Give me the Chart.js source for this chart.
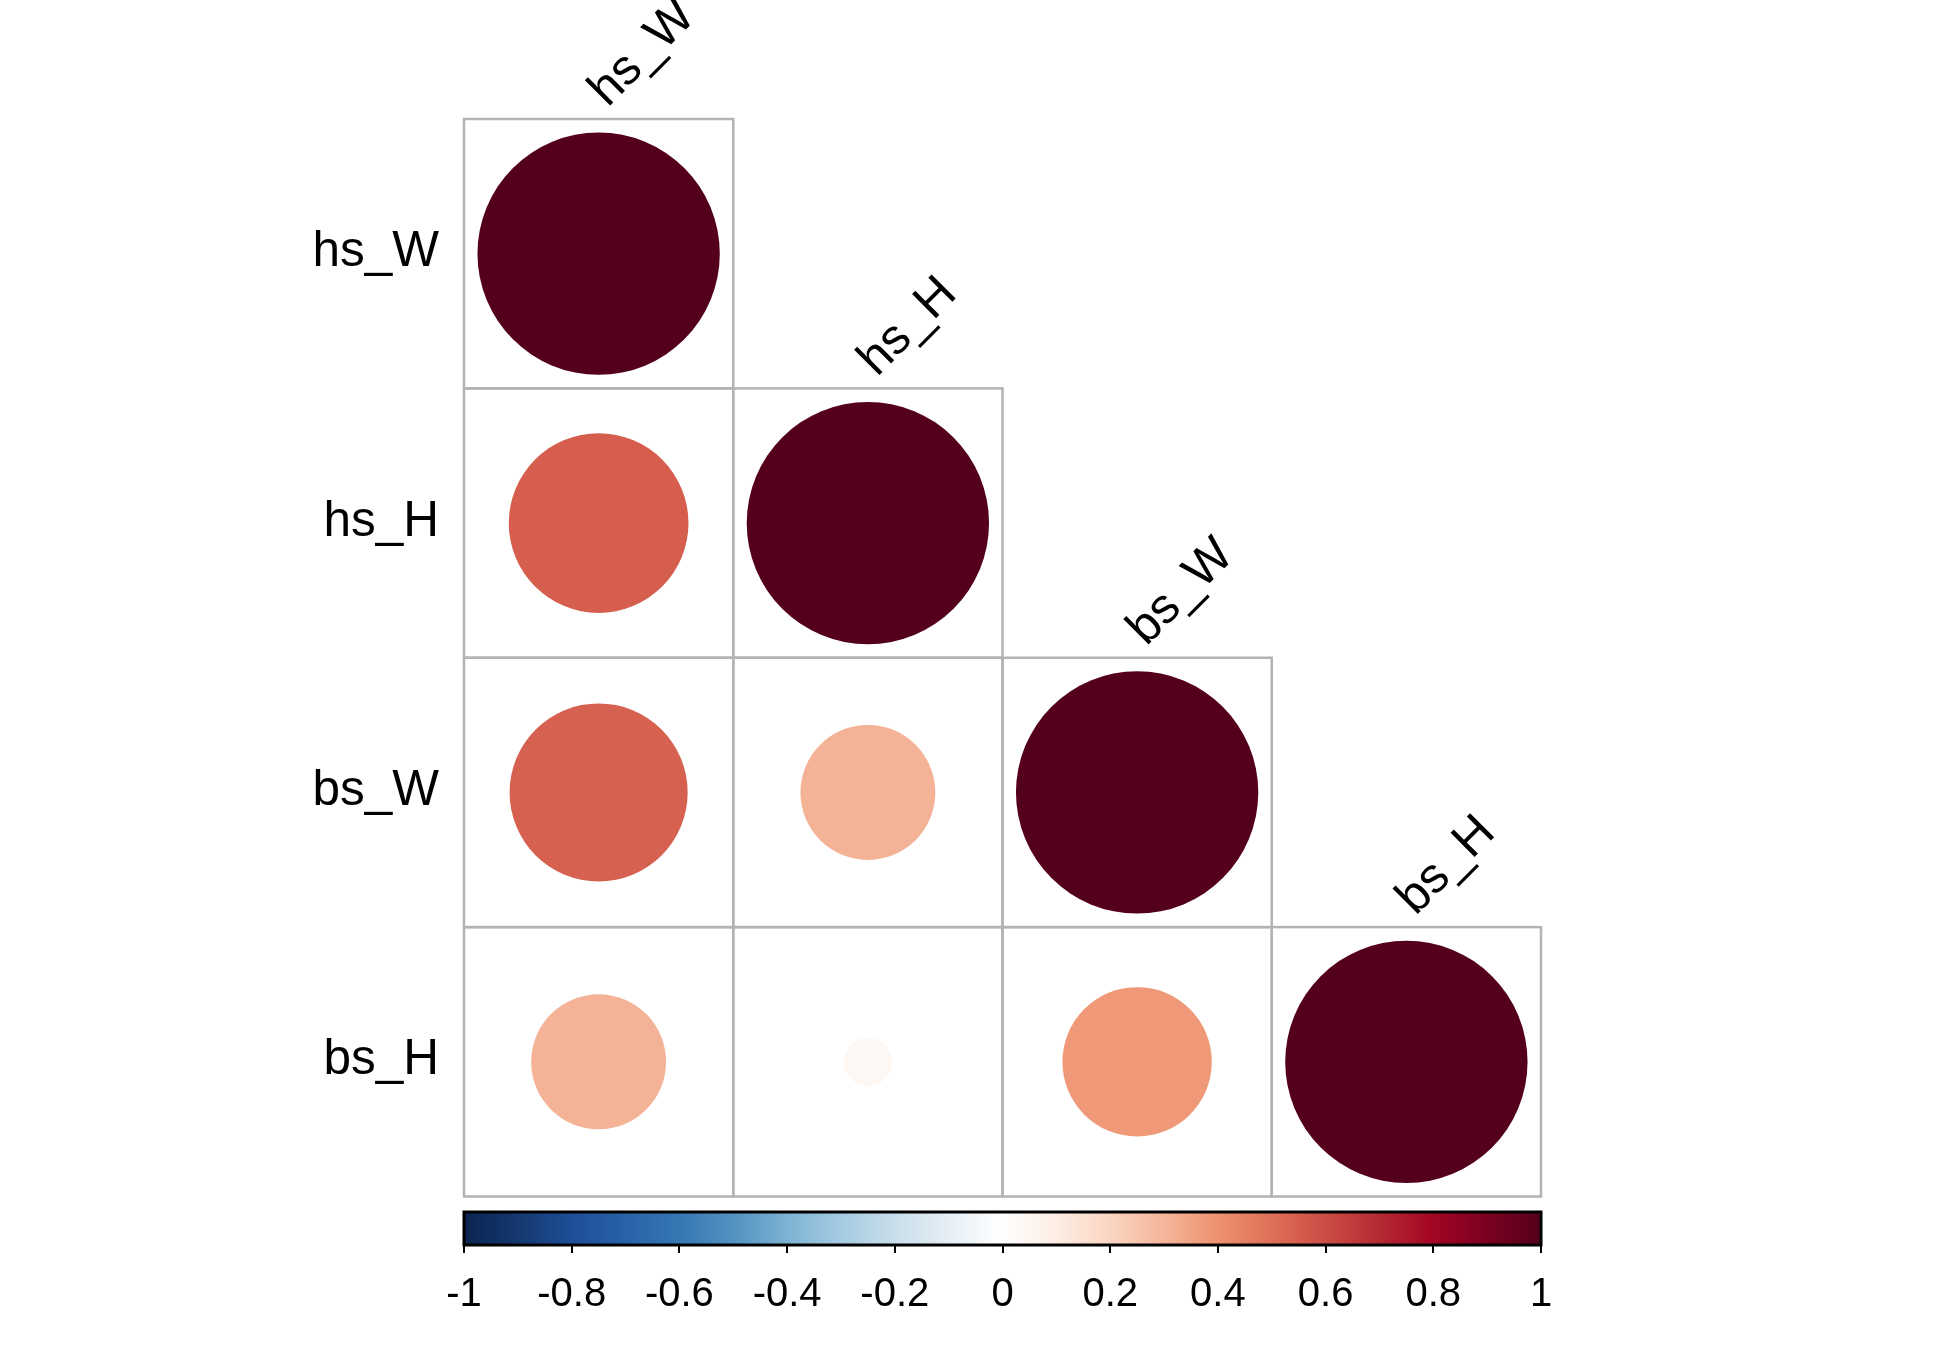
<!DOCTYPE html>
<html><head><meta charset="utf-8">
<script src="https://cdn.jsdelivr.net/npm/chart.js@4.4.1/dist/chart.umd.min.js"></script>
<style>html,body{margin:0;padding:0;background:#fff;}#wrap{width:1950px;height:1350px;}</style>
</head><body><div id="wrap"><canvas id="c" width="1950" height="1350"></canvas></div>
<script>
// ---- data ----
const variables = ['hs_W', 'hs_H', 'bs_W', 'bs_H'];
const corrHsW = [1.00];
const corrHsH = [0.55, 1.00];
const corrBsW = [0.54, 0.31, 1.00];
const corrBsH = [0.31, 0.04, 0.38, 1.00];
const colorbarTicks = [-1, -0.8, -0.6, -0.4, -0.2, 0, 0.2, 0.4, 0.6, 0.8, 1];
const paletteStops = [-1, -0.9, -0.8, -0.7, -0.6, -0.5, -0.4, -0.3, -0.2, -0.1, 0,
                      0.1, 0.2, 0.3, 0.4, 0.5, 0.6, 0.7, 0.8, 0.9, 1];
const paletteColors = ['#0B2450', '#14386F', '#1E4E97', '#2862A7', '#3577B3', '#5291C0', '#7DB3D3', '#A5CBE1', '#C9DEEB', '#E6EFF5', '#FFFFFF',
                       '#FDEDE4', '#FBD5C2', '#F5B59A', '#EE9270', '#DE6F58', '#CB4D44', '#B52A33', '#A30524', '#7A0020', '#54001A'];

const matrix = [corrHsW, corrHsH, corrBsW, corrBsH];
const nVar = variables.length;
const FONT = '"Liberation Sans", Arial, Helvetica, sans-serif';

function hexToRgb(h) { const n = parseInt(h.slice(1), 16); return [(n >> 16) & 255, (n >> 8) & 255, n & 255]; }
function colorFor(v) {
  if (v <= paletteStops[0]) return paletteColors[0];
  for (let k = 1; k < paletteStops.length; k++) {
    if (v <= paletteStops[k]) {
      const t = (v - paletteStops[k - 1]) / (paletteStops[k] - paletteStops[k - 1]);
      const a = hexToRgb(paletteColors[k - 1]), b = hexToRgb(paletteColors[k]);
      const c = a.map((av, i) => Math.round(av + (b[i] - av) * t));
      return `rgb(${c[0]},${c[1]},${c[2]})`;
    }
  }
  return paletteColors[paletteColors.length - 1];
}

const points = [];
matrix.forEach((row, i) => row.forEach((v, j) => {
  points.push({ x: j + 0.5, y: nVar - i - 0.5, v: v });
}));

const corrPlugin = {
  id: 'corrplot',
  beforeDatasetsDraw(chart) {
    const { ctx, scales: { x, y } } = chart;
    ctx.save();
    ctx.strokeStyle = '#B3B3B3';
    ctx.lineWidth = 2.5;
    matrix.forEach((row, i) => row.forEach((v, j) => {
      const x0 = x.getPixelForValue(j), x1 = x.getPixelForValue(j + 1);
      const y0 = y.getPixelForValue(nVar - i), y1 = y.getPixelForValue(nVar - i - 1);
      ctx.strokeRect(x0, y0, x1 - x0, y1 - y0);
    }));
    ctx.restore();
  },
  afterDraw(chart) {
    const { ctx, chartArea, scales: { x, y, cb } } = chart;
    ctx.save();
    // row labels
    ctx.fillStyle = '#000';
    ctx.font = '49.5px ' + FONT;
    ctx.textAlign = 'right';
    ctx.textBaseline = 'middle';
    variables.forEach((lab, i) => {
      ctx.fillText(lab, x.getPixelForValue(0) - 25, y.getPixelForValue(nVar - i - 0.5) - 1);
    });
    // column labels (rotated)
    ctx.textAlign = 'left';
    ctx.textBaseline = 'alphabetic';
    variables.forEach((lab, j) => {
      const cx = x.getPixelForValue(j + 0.5);
      const top = y.getPixelForValue(nVar - j);
      ctx.save();
      ctx.translate(cx + 9, top - 11);
      ctx.rotate(-Math.PI / 4);
      ctx.fillText(lab, 0, 0);
      ctx.restore();
    });
    // colour bar
    const barH = 33;
    const bx0 = cb.getPixelForValue(-1), bx1 = cb.getPixelForValue(1);
    const by1 = chartArea.bottom, by0 = by1 - barH;
    const grad = ctx.createLinearGradient(bx0, 0, bx1, 0);
    paletteStops.forEach((s, k) => grad.addColorStop((s + 1) / 2, paletteColors[k]));
    ctx.fillStyle = grad;
    ctx.fillRect(bx0, by0, bx1 - bx0, barH);
    ctx.strokeStyle = '#000';
    ctx.lineWidth = 3;
    ctx.strokeRect(bx0, by0, bx1 - bx0, barH);
    ctx.restore();
  }
};

new Chart(document.getElementById('c'), {
  type: 'scatter',
  data: {
    datasets: [{
      data: points,
      pointRadius: (ctx) => {
        const xs = ctx.chart.scales.x;
        const cell = xs.getPixelForValue(1) - xs.getPixelForValue(0);
        const v = ctx.raw ? ctx.raw.v : 0;
        return 0.45 * cell * Math.sqrt(Math.abs(v));
      },
      pointBackgroundColor: (ctx) => colorFor(ctx.raw ? ctx.raw.v : 0),
      pointBorderWidth: 0,
      pointHoverRadius: 0,
      clip: false
    }]
  },
  options: {
    responsive: false,
    animation: false,
    devicePixelRatio: 1,
    events: [],
    layout: { padding: { left: 464, right: 409, top: 119, bottom: 35 } },
    plugins: { legend: { display: false }, tooltip: { enabled: false } },
    scales: {
      x: { type: 'linear', min: 0, max: 4, display: false },
      y: { type: 'linear', min: -0.18, max: 4, display: false },
      cb: {
        type: 'linear', axis: 'x', position: 'bottom', min: -1, max: 1,
        afterBuildTicks: (scale) => { scale.ticks = colorbarTicks.map(v => ({ value: v })); },
        afterFit: (scale) => { scale.height = 70; },
        ticks: {
          font: { family: FONT, size: 40 }, color: '#000', padding: 18, maxRotation: 0, autoSkip: false,
          callback: (v) => String(Math.round(v * 10) / 10)
        },
        grid: { drawOnChartArea: false, drawTicks: true, tickLength: 8, color: '#000', lineWidth: 2 },
        border: { display: false }
      }
    }
  },
  plugins: [corrPlugin]
});
</script></body></html>
